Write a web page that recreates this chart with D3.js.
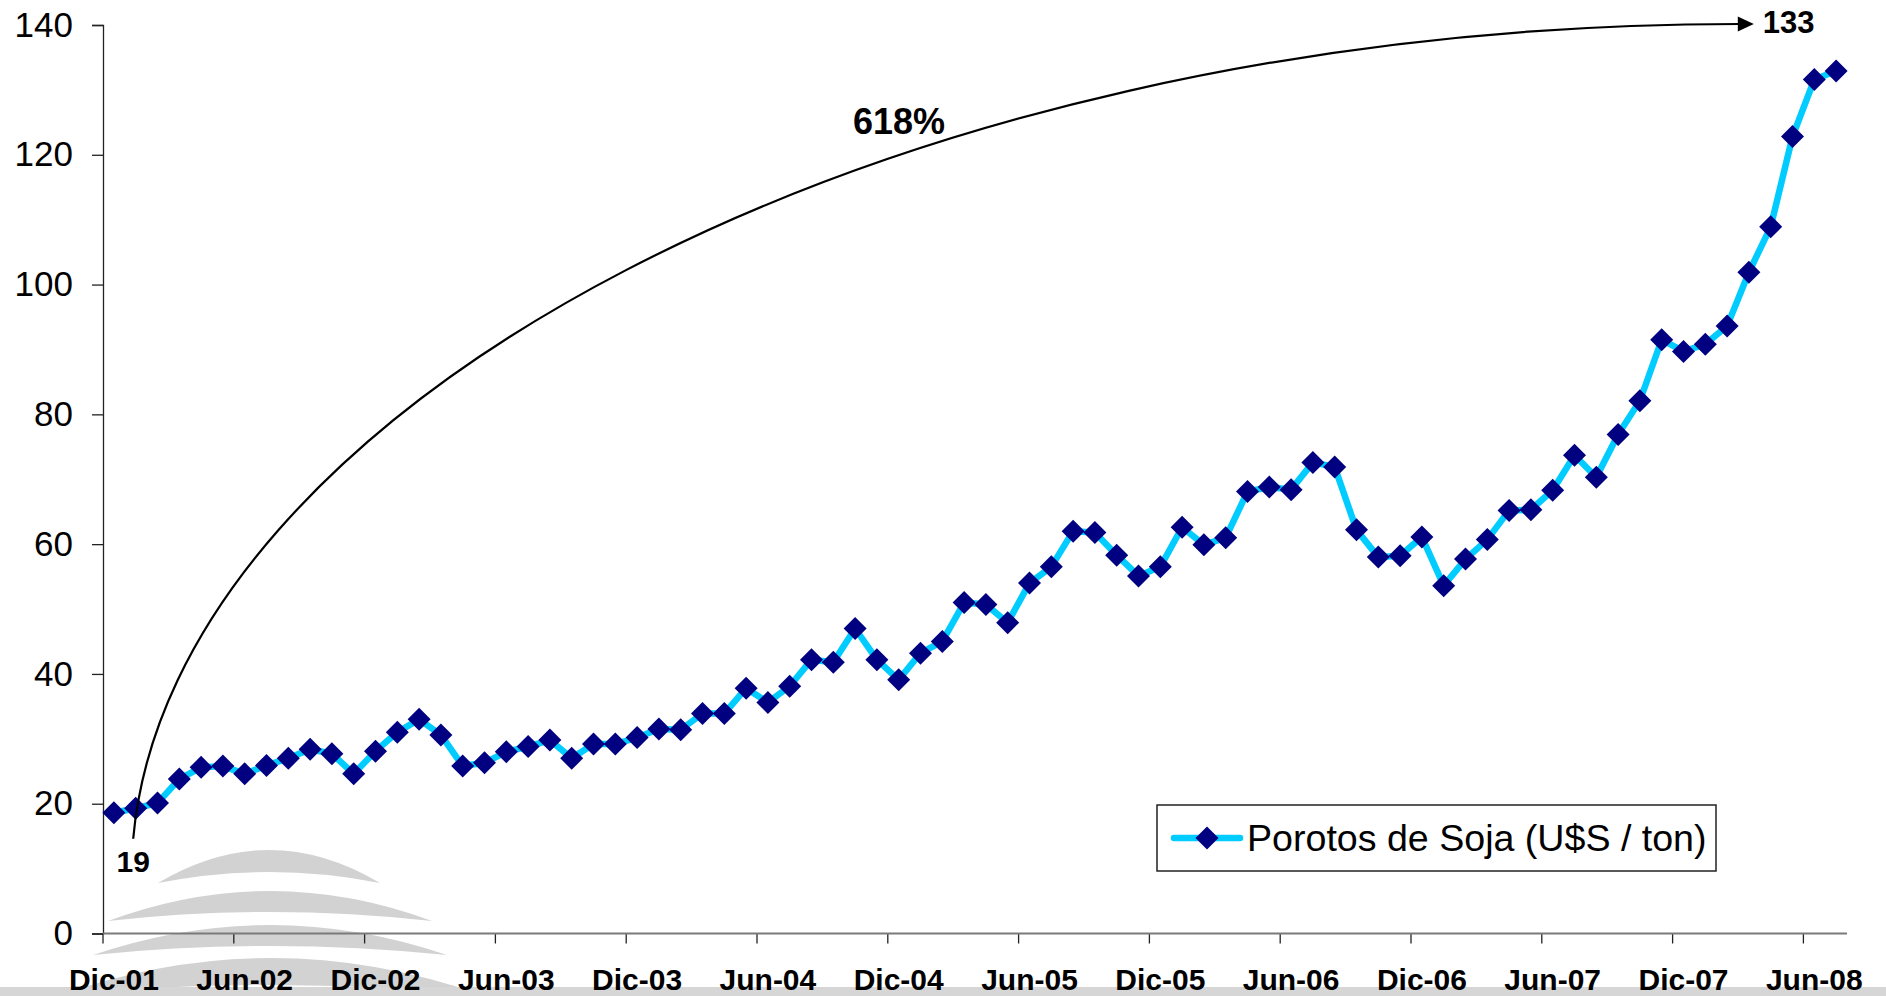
<!DOCTYPE html>
<html>
<head>
<meta charset="utf-8">
<script src="https://cdn.jsdelivr.net/npm/d3@7"></script>
<style>
  html, body { margin: 0; padding: 0; background: #ffffff; }
  svg { display: block; font-family: "Liberation Sans", Arial, Helvetica, sans-serif; }
</style>
</head>
<body>
<svg id="chart" width="1886" height="996"></svg>
<script>
// ---------- DATA ----------
const categories = [
  "Dic-01",
  "Ene-02","Feb-02","Mar-02","Abr-02","May-02","Jun-02","Jul-02","Ago-02","Sep-02","Oct-02","Nov-02","Dic-02",
  "Ene-03","Feb-03","Mar-03","Abr-03","May-03","Jun-03","Jul-03","Ago-03","Sep-03","Oct-03","Nov-03","Dic-03",
  "Ene-04","Feb-04","Mar-04","Abr-04","May-04","Jun-04","Jul-04","Ago-04","Sep-04","Oct-04","Nov-04","Dic-04",
  "Ene-05","Feb-05","Mar-05","Abr-05","May-05","Jun-05","Jul-05","Ago-05","Sep-05","Oct-05","Nov-05","Dic-05",
  "Ene-06","Feb-06","Mar-06","Abr-06","May-06","Jun-06","Jul-06","Ago-06","Sep-06","Oct-06","Nov-06","Dic-06",
  "Ene-07","Feb-07","Mar-07","Abr-07","May-07","Jun-07","Jul-07","Ago-07","Sep-07","Oct-07","Nov-07","Dic-07",
  "Ene-08","Feb-08","Mar-08","Abr-08","May-08","Jun-08","Jul-08"
];
const values = [
  18.6,
  19.3, 20.1, 23.8, 25.6, 25.8, 24.6, 25.9, 27.0, 28.4, 27.7, 24.6, 28.1,
  31.0, 33.0, 30.6, 25.8, 26.3, 28.0, 28.8, 29.8, 27.0, 29.2, 29.2, 30.2,
  31.5, 31.4, 33.9, 33.9, 37.8, 35.6, 38.1, 42.2, 41.8, 47.0, 42.2, 39.1,
  43.2, 45.0, 51.0, 50.7, 47.9, 54.0, 56.5, 62.0, 61.8, 58.3, 55.1, 56.5,
  62.6, 59.9, 61.0, 68.1, 68.8, 68.4, 72.6, 71.9, 62.2, 58.0, 58.2, 61.1,
  53.6, 57.7, 60.7, 65.2, 65.3, 68.3, 73.7, 70.3, 76.9, 82.1, 91.5, 89.7,
  90.8, 93.6, 101.9, 108.9, 122.8, 131.6, 132.9
];
const yTicks = [0, 20, 40, 60, 80, 100, 120, 140];
const xLabelEvery = 6;
const seriesName = "Porotos de Soja (U$S / ton)";
const startLabel = "19";
const endLabel = "133";
const changeLabel = "618%";

// ---------- LAYOUT ----------
const svg = d3.select("#chart");
const plotLeft = 103, plotRight = 1847, plotTop = 25, plotBottom = 933.5;

const x = d3.scaleBand().domain(categories).range([plotLeft, plotRight]).paddingInner(0).paddingOuter(0);
const xc = c => x(c) + x.bandwidth() / 2;
const y = d3.scaleLinear().domain([0, 140]).range([plotBottom, plotTop]);

// ---------- WATERMARK (background) ----------
const wm = svg.append("g").attr("fill", "#d2d2d2");
const lenses = [
  {l:158, r:380, tip:883, t:817, b:861},
  {l:108, r:432, tip:921, t:861, b:903},
  {l:93,  r:447, tip:955, t:895, b:937},
  {l:60,  r:482, tip:995, t:921, b:975}
];
lenses.forEach(d => {
  const cx = (d.l + d.r) / 2;
  wm.append("path").attr("d",
    `M${d.l},${d.tip} Q${cx},${d.t} ${d.r},${d.tip} Q${cx},${d.b} ${d.l},${d.tip} Z`);
});
svg.append("rect").attr("x", 0).attr("y", 987).attr("width", 1886).attr("height", 9).attr("fill", "#d6d6d6");

// ---------- AXES ----------
const yAxis = d3.axisLeft(y).tickValues(yTicks).tickSize(11).tickPadding(19);
const gy = svg.append("g").attr("transform", `translate(${plotLeft},0)`).call(yAxis);
gy.select(".domain").attr("stroke", "#222").attr("stroke-width", 1.3);
gy.selectAll(".tick line").attr("stroke", "#222").attr("stroke-width", 1.3);
gy.selectAll(".tick text").attr("font-size", 35).attr("fill", "#000")
  .attr("font-family", "'Liberation Sans', Arial, sans-serif");

const labeled = categories.filter((c, i) => i % xLabelEvery === 0);
svg.append("g").selectAll("line").data(labeled).join("line")
  .attr("x1", d => x(d)).attr("x2", d => x(d))
  .attr("y1", plotBottom).attr("y2", plotBottom + 10)
  .attr("stroke", "#222").attr("stroke-width", 1.3);
svg.append("line").attr("x1", plotLeft).attr("x2", plotRight).attr("y1", plotBottom).attr("y2", plotBottom)
  .attr("stroke", "#7a7a7a").attr("stroke-width", 2.2);
svg.append("g").selectAll("text").data(labeled).join("text")
  .attr("x", d => xc(d)).attr("y", 990)
  .attr("text-anchor", "middle").attr("font-size", 30).attr("font-weight", "bold")
  .attr("fill", "#000").text(d => d);

// ---------- SERIES ----------
const pts = categories.map((c, i) => ({c, v: values[i]}));
svg.append("path").datum(pts)
  .attr("fill", "none").attr("stroke", "#00CCFF").attr("stroke-width", 6.5)
  .attr("stroke-linejoin", "round")
  .attr("d", d3.line().x(d => xc(d.c)).y(d => y(d.v)));
const r = 11.5;
const diamond = `M0,${-r} L${r},0 L0,${r} L${-r},0 Z`;
svg.append("g").selectAll("path").data(pts).join("path")
  .attr("transform", d => `translate(${xc(d.c)},${y(d.v)})`)
  .attr("d", diamond).attr("fill", "#000080");

// ---------- ANNOTATION ----------
const sx = xc(categories[1]) - 2.5, sy = y(14.6);
const ex = x(categories[76]) - 6, ey = y(140) - 1;
svg.append("path")
  .attr("d", `M${sx},${sy} C${sx + 38},${sy - 430} ${ex - 880},${ey} ${ex - 14},${ey}`)
  .attr("fill", "none").attr("stroke", "#000").attr("stroke-width", 2.2);
svg.append("path")
  .attr("d", `M${ex},${ey} L${ex - 16},${ey - 7.5} L${ex - 16},${ey + 7.5} Z`)
  .attr("fill", "#000");
svg.append("text").attr("x", ex + 9).attr("y", ey + 9)
  .attr("font-size", 31).attr("font-weight", "bold").attr("fill", "#000").text(endLabel);
svg.append("text").attr("x", sx).attr("y", 872).attr("text-anchor", "middle")
  .attr("font-size", 30).attr("font-weight", "bold").attr("fill", "#000").text(startLabel);
svg.append("text").attr("x", 899).attr("y", 134).attr("text-anchor", "middle")
  .attr("font-size", 36).attr("font-weight", "bold").attr("fill", "#000").text(changeLabel);

// ---------- LEGEND ----------
const lg = svg.append("g");
lg.append("rect").attr("x", 1157).attr("y", 805).attr("width", 559).attr("height", 66)
  .attr("fill", "#fff").attr("stroke", "#222").attr("stroke-width", 1.5);
lg.append("line").attr("x1", 1174).attr("x2", 1240).attr("y1", 838).attr("y2", 838)
  .attr("stroke", "#00CCFF").attr("stroke-width", 6.5).attr("stroke-linecap", "round");
lg.append("path").attr("transform", "translate(1207,838)").attr("d", diamond).attr("fill", "#000080");
lg.append("text").attr("x", 1247).attr("y", 851).attr("font-size", 37.6).attr("fill", "#000").text(seriesName);
</script>
</body>
</html>
